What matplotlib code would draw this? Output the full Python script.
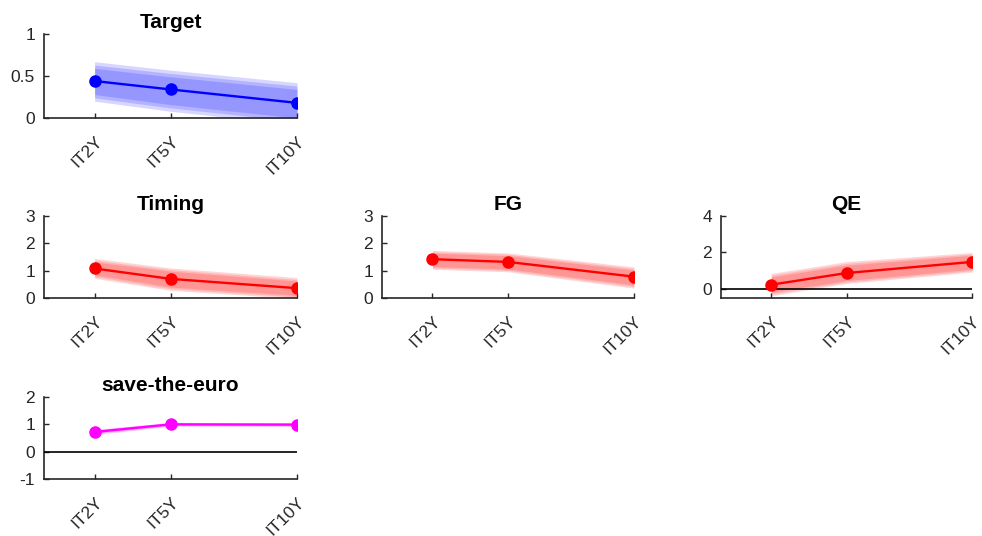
import matplotlib
matplotlib.use("Agg")
import matplotlib.pyplot as plt

plt.rcParams['font.family'] = ['Liberation Sans', 'DejaVu Sans']

maturities = [2, 5, 10]
tick_labels = ["IT2Y", "IT5Y", "IT10Y"]

titles = ["Target", "Timing", "FG", "QE", "save-the-euro"]
colors = ["#0000ff", "#ff0000", "#ff0000", "#ff0000", "#ff00ff"]
ylims = [(0, 1), (0, 3), (0, 3), (-0.5, 4), (-1, 2)]
yticks = [[0, 0.5, 1], [0, 1, 2, 3], [0, 1, 2, 3], [0, 2, 4], [-1, 0, 1, 2]]
ytick_labels = [["0", "0.5", "1"], ["0", "1", "2", "3"], ["0", "1", "2", "3"],
                ["0", "2", "4"], ["-1", "0", "1", "2"]]

target_mid = [0.44, 0.34, 0.18]
timing_mid = [1.08, 0.70, 0.36]
fg_mid = [1.42, 1.32, 0.78]
qe_mid = [0.23, 0.87, 1.48]
ste_mid = [0.72, 1.00, 0.99]

# bands: (lower, upper) for outer, middle, inner
target_bands = [([0.20, 0.08, -0.08], [0.67, 0.57, 0.42]),
                ([0.24, 0.12, -0.04], [0.63, 0.53, 0.38]),
                ([0.28, 0.16, 0.00], [0.59, 0.49, 0.34])]
timing_bands = [([0.72, 0.28, -0.02], [1.45, 1.10, 0.75]),
                ([0.78, 0.34, 0.04], [1.38, 1.04, 0.68]),
                ([0.85, 0.40, 0.10], [1.32, 0.98, 0.62])]
fg_bands = [([1.05, 0.96, 0.36], [1.74, 1.65, 1.14]),
            ([1.10, 1.01, 0.42], [1.69, 1.60, 1.08]),
            ([1.15, 1.06, 0.48], [1.64, 1.55, 1.02])]
qe_bands = [([-0.38, 0.30, 0.92], [0.85, 1.50, 2.00]),
            ([-0.28, 0.38, 1.00], [0.75, 1.40, 1.92]),
            ([-0.18, 0.46, 1.08], [0.65, 1.30, 1.84])]
ste_bands = [([0.62, 0.93, 0.92], [0.82, 1.07, 1.06]),
             ([0.65, 0.95, 0.94], [0.80, 1.05, 1.04]),
             ([0.68, 0.97, 0.96], [0.77, 1.03, 1.02])]

mids = [target_mid, timing_mid, fg_mid, qe_mid, ste_mid]
bands = [target_bands, timing_bands, fg_bands, qe_bands, ste_bands]
zero_line = [False, False, False, True, True]

W, H = 982, 536
# pixel boxes: left, top, right, bottom
boxes = [(44, 34, 297, 118), (44, 216, 297, 298), (382, 216, 634, 298),
         (721, 216, 972, 298), (44, 397, 297, 479)]

fig = plt.figure(figsize=(W / 100, H / 100), dpi=100)
axc = (0.15, 0.15, 0.15)
for i in range(5):
    l, t, r, b = boxes[i]
    ax = fig.add_axes([l / W, (H - b) / H, (r - l) / W, (b - t) / H])
    c = colors[i]
    for lo, hi in bands[i]:
        ax.fill_between(maturities, lo, hi, color=c, alpha=0.16, linewidth=0)
    if zero_line[i]:
        ax.axhline(0, color='black', lw=1.2, zorder=3)
    ax.plot(maturities, mids[i], color=c, lw=1.7, marker='o', ms=8, zorder=4)
    ax.set_xlim(0, 10)
    ax.set_ylim(*ylims[i])
    ax.set_xticks(maturities)
    ax.set_xticklabels(tick_labels, rotation=45, ha='right', va='top',
                       rotation_mode='anchor', fontsize=12.5, color=axc)
    ax.set_yticks(yticks[i])
    ax.set_yticklabels(ytick_labels[i], fontsize=12.5, color=axc)
    ax.tick_params(direction='in', length=3.5, width=1.0, color=axc)
    ax.tick_params(axis='y', pad=6.5)
    ax.tick_params(axis='x', pad=11)
    for s in ['top', 'right']:
        ax.spines[s].set_visible(False)
    for s in ['left', 'bottom']:
        ax.spines[s].set_color(axc)
        ax.spines[s].set_linewidth(1.2)
    ax.set_title(titles[i], fontsize=15, fontweight='bold', pad=4)

fig.savefig("out.png", dpi=100)
